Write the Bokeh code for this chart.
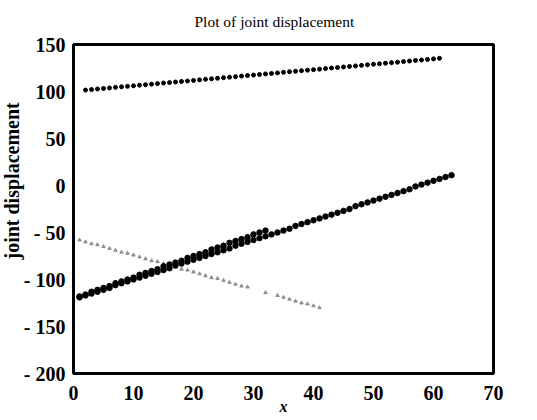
from bokeh.plotting import figure
from bokeh.embed import file_html
from bokeh.resources import INLINE
from bokeh.models import FixedTicker, Range1d, Title

# ---- data ----
top_x = list(range(2, 62))
top_y = [101.5, 102.1, 102.7, 103.2, 103.8, 104.4, 105.0, 105.5, 106.1, 106.7,
         107.2, 107.8, 108.4, 109.0, 109.5, 110.1, 110.7, 111.2, 111.8, 112.4,
         113.0, 113.5, 114.1, 114.7, 115.2, 115.8, 116.4, 117.0, 117.5, 118.1,
         118.7, 119.2, 119.8, 120.4, 121.0, 121.5, 122.1, 122.7, 123.2, 123.8,
         124.4, 125.0, 125.5, 126.1, 126.7, 127.2, 127.8, 128.4, 129.0, 129.5,
         130.1, 130.7, 131.2, 131.8, 132.4, 133.0, 133.5, 134.1, 134.7, 135.3]

long_x = list(range(1, 64))
long_y = [-119, -117, -115, -113, -111, -109, -106, -104, -102, -100,
          -98, -96, -94, -92, -90, -88, -85, -83, -81, -79,
          -77, -75, -73, -71, -69, -67, -64, -62, -60, -58,
          -56, -54, -52, -50, -48, -46, -43, -41, -39, -37,
          -35, -33, -31, -29, -27, -25, -22, -20, -18, -16,
          -14, -12, -10, -8, -6, -4, -1, 1, 3, 5,
          7, 9, 11]

short_x = list(range(1, 33))
short_y = [-118, -116, -113, -111, -109, -107, -104, -102, -100, -98,
           -95, -93, -91, -89, -86, -84, -82, -80, -77, -75,
           -73, -71, -68, -66, -64, -61, -59, -57, -55, -52,
           -50, -48]

faint_x = [1, 2, 3, 4, 5, 6, 7, 8, 9, 10, 11, 12, 13, 14, 15, 16, 17, 18, 19, 20,
           21, 22, 23, 24, 25, 26, 27, 28, 29, 32, 34, 35, 36, 37, 38, 39, 40, 41]
faint_y = [-58, -60, -62, -63, -65, -67, -69, -71, -72, -74, -76, -78, -80, -81,
           -83, -85, -87, -89, -90, -92, -94, -96, -98, -99, -101, -103, -105,
           -107, -108, -114, -117, -119, -121, -123, -125, -126, -128, -130]

x_ticks = [0, 10, 20, 30, 40, 50, 60, 70]
y_ticks = [-200, -150, -100, -50, 0, 50, 100, 150]
y_tick_labels = ["- 200", "- 150", "- 100", "- 50", "0", "50", "100", "150"]

SERIF = "Liberation Serif"

p = figure(frame_width=420, frame_height=329, output_backend="svg",
           toolbar_location=None,
           x_range=Range1d(0, 70), y_range=Range1d(-200, 150),
           min_border_left=68, min_border_right=25, min_border_top=39,
           min_border_bottom=36)

p.title = Title(text="Plot of joint displacement", align="left", offset=121,
                vertical_align="top",
                text_font=SERIF, text_font_size="15.5px", text_font_style="normal",
                text_color="black", standoff=25)

p.outline_line_color = "black"
p.outline_line_width = 3
p.grid.visible = False

for ax in (p.xaxis[0], p.yaxis[0]):
    ax.axis_line_color = None
    ax.major_tick_line_color = None
    ax.minor_tick_line_color = None
    ax.major_label_text_font = SERIF
    ax.major_label_text_font_style = "bold"
    ax.major_label_text_font_size = "20px"
    ax.major_label_text_color = "black"

p.xaxis.ticker = FixedTicker(ticks=x_ticks)
p.yaxis.ticker = FixedTicker(ticks=y_ticks)
p.yaxis.major_label_overrides = {t: l for t, l in zip(y_ticks, y_tick_labels)}
p.xaxis.major_label_standoff = 6
p.yaxis.major_label_standoff = 2

p.xaxis.axis_label = "x"
p.xaxis.axis_label_text_font = SERIF
p.xaxis.axis_label_text_font_style = "bold italic"
p.xaxis.axis_label_text_font_size = "16px"
p.xaxis.axis_label_text_color = "black"
p.xaxis.axis_label_standoff = -5

ylab = Title(text="joint displacement", align="left", offset=114,
             text_font=SERIF, text_font_size="20px", text_font_style="bold",
             text_color="black", standoff=-4)
p.add_layout(ylab, "left")

p.scatter(faint_x, faint_y, marker="triangle", size=3.5, color="#808080", alpha=0.8)
p.scatter(top_x, top_y, marker="circle", size=4, color="black")
p.scatter(long_x, long_y, marker="circle", size=5.5, color="black")
p.scatter(short_x, short_y, marker="circle", size=5.5, color="black")

open("out.html", "w").write(file_html(p, INLINE))
